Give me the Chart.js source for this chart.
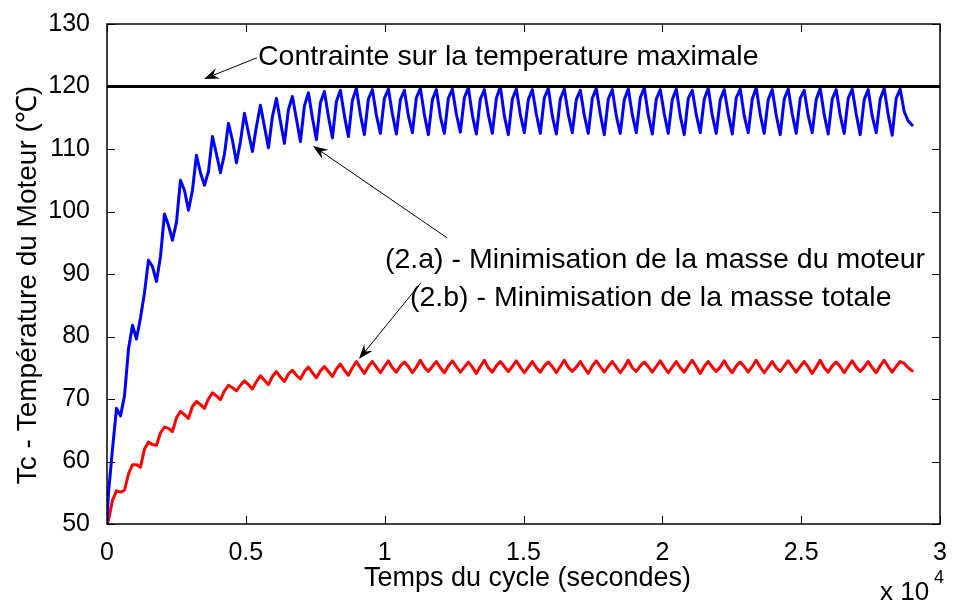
<!DOCTYPE html>
<html>
<head>
<meta charset="utf-8">
<script src="https://cdn.jsdelivr.net/npm/chart.js@4.4.1/dist/chart.umd.min.js"></script>
<style>
    html, body { margin: 0; padding: 0; background: #fff; }
    canvas { display: block; }
</style>
</head>
<body>
<canvas id="temp-chart" width="956" height="604"></canvas>
<script>
// one reading at t = 0, then readings every 144 s starting at 54 s (4 per 576 s cycle)
const FIRST_SAMPLE = 54;
const SAMPLE_STEP = 144;

// (2.a) - motor mass minimisation, degC
const blueTemp = [
    50.2, 55.0, 62.0,
    68.5, 67.3, 70.5, 78.0,
    81.8, 79.6, 83.0, 87.0,
    92.2, 91.2, 88.8, 92.8,
    99.6, 97.8, 95.4, 98.3,
    105.0, 103.4, 100.2, 103.4,
    109.0, 106.2, 104.2, 106.4,
    112.0, 109.2, 106.2, 109.2,
    114.1, 111.4, 107.8, 111.2,
    115.7, 112.6, 109.6, 113.6,
    117.0, 113.6, 110.2, 115.2,
    118.1, 114.4, 110.9, 116.3,
    118.4, 114.8, 111.2, 116.9,
    119.0, 115.0, 111.5, 117.4,
    119.2, 115.2, 111.8, 117.6,
    119.4, 115.3, 112.0, 117.8,
    119.7, 115.5, 112.3, 118.0,
    119.5, 115.4, 112.5, 118.1,
    119.6, 115.6, 112.4, 117.9,
    119.4, 115.3, 112.6, 118.2,
    119.7, 115.5, 112.3, 117.9,
    119.5, 115.2, 112.5, 118.1,
    119.6, 115.6, 112.7, 118.2,
    119.8, 115.4, 112.4, 118.0,
    119.5, 115.5, 112.5, 118.1,
    120.0, 115.3, 112.3, 118.0,
    119.6, 115.5, 112.6, 117.9,
    119.5, 115.6, 112.5, 118.2,
    119.7, 115.3, 112.4, 118.0,
    119.6, 115.5, 112.6, 117.9,
    119.4, 115.4, 112.5, 118.1,
    119.7, 115.6, 112.3, 118.0,
    119.5, 115.3, 112.5, 117.9,
    119.6, 115.5, 112.6, 118.2,
    119.8, 115.4, 112.4, 118.0,
    119.5, 115.6, 112.5, 117.9,
    119.6, 115.3, 112.3, 118.1,
    119.4, 115.5, 112.6, 118.0,
    119.7, 115.4, 112.5, 117.9,
    119.5, 115.6, 112.4, 118.2,
    119.6, 115.3, 112.6, 118.0,
    119.8, 115.5, 112.5, 117.9,
    119.5, 115.4, 112.3, 118.0,
    119.6, 115.6, 112.5, 118.1,
    119.4, 115.3, 112.6, 117.9,
    119.7, 115.5, 112.4, 118.0,
    119.5, 115.4, 112.5, 118.1,
    119.6, 115.6, 112.3, 117.9,
    119.5, 115.3, 112.6, 118.0,
    119.7, 115.5, 112.2, 118.1,
    119.6, 116.0, 114.5, 113.8
];

// (2.b) - total mass minimisation, degC
const redTemp = [
    50.0, 50.6, 53.8,
    55.3, 55.1, 55.4, 58.0,
    59.5, 59.5, 59.1, 62.0,
    63.1, 62.7, 62.6, 64.6,
    65.5, 65.3, 64.8, 67.0,
    68.0, 67.5, 66.9, 68.8,
    69.6, 69.1, 68.5, 70.0,
    71.0, 70.5, 69.9, 71.3,
    72.2, 71.8, 71.3, 72.2,
    72.9, 72.3, 71.6, 72.8,
    73.7, 73.0, 72.3, 73.6,
    74.4, 73.5, 72.8, 74.0,
    74.6, 73.8, 73.2, 74.4,
    75.1, 74.2, 73.4, 74.5,
    75.2, 74.4, 73.6, 74.8,
    75.6, 74.6, 73.8, 75.0,
    76.0, 75.0, 74.1, 75.2,
    76.0, 75.1, 74.2, 75.2,
    76.1, 75.0, 74.3, 75.3,
    75.9, 75.2, 74.2, 75.1,
    76.2, 75.1, 74.4, 75.2,
    76.0, 75.0, 74.2, 75.3,
    76.1, 75.2, 74.3, 75.1,
    75.9, 75.1, 74.1, 75.2,
    76.2, 75.0, 74.3, 75.3,
    76.0, 75.2, 74.4, 75.2,
    76.1, 75.1, 74.2, 75.1,
    76.0, 75.0, 74.3, 75.3,
    75.9, 75.2, 74.2, 75.2,
    76.2, 75.1, 74.4, 75.1,
    76.0, 75.0, 74.1, 75.3,
    76.1, 75.2, 74.3, 75.2,
    76.0, 75.1, 74.2, 75.1,
    76.2, 75.0, 74.4, 75.3,
    75.9, 75.2, 74.3, 75.2,
    76.1, 75.1, 74.2, 75.1,
    76.0, 75.0, 74.3, 75.3,
    76.2, 75.2, 74.1, 75.2,
    76.0, 75.1, 74.4, 75.1,
    76.1, 75.0, 74.2, 75.3,
    75.9, 75.2, 74.3, 75.2,
    76.2, 75.1, 74.2, 75.1,
    76.0, 75.0, 74.4, 75.3,
    76.1, 75.2, 74.3, 75.2,
    76.0, 75.1, 74.1, 75.1,
    76.2, 75.0, 74.3, 75.3,
    75.9, 75.2, 74.2, 75.2,
    76.1, 75.1, 74.4, 75.1,
    76.0, 75.0, 74.2, 75.3,
    76.2, 75.2, 74.3, 75.2,
    76.0, 75.7, 75.0, 74.5
];

const constraintX = [0, 30000];
const constraintY = [120, 120];

const xTicks = [0, 5000, 10000, 15000, 20000, 25000, 30000];
const yTicks = [50, 60, 70, 80, 90, 100, 110, 120, 130];

const FONT = '"Liberation Sans", Arial, Helvetica, sans-serif';

// annotations, in data coordinates
const notes = [
    { text: 'Contrainte sur la temperature maximale', x: 5437, y: 123.4 },
    { text: '(2.a) - Minimisation de la masse du moteur', x: 10011, y: 91.0 },
    { text: '(2.b) - Minimisation de la masse totale', x: 10911, y: 84.9 }
];
const arrows = [
    { from: [5401, 124.6], to: [3493, 121.2] },
    { from: [12243, 95.8], to: [7418, 110.5] },
    { from: [11307, 88.6], to: [9074, 76.4] }
];

function toPoints(values) {
    return values.map((v, i) => ({
        x: i === 0 ? 0 : FIRST_SAMPLE + SAMPLE_STEP * (i - 1),
        y: v
    }));
}

function drawArrow(ctx, x1, y1, x2, y2) {
    const ang = Math.atan2(y2 - y1, x2 - x1);
    const len = 15, half = 5.5;
    ctx.beginPath();
    ctx.moveTo(x1, y1);
    ctx.lineTo(x2 - Math.cos(ang) * len * 0.6, y2 - Math.sin(ang) * len * 0.6);
    ctx.stroke();
    const bx = x2 - Math.cos(ang) * len, by = y2 - Math.sin(ang) * len;
    const nx = -Math.sin(ang), ny = Math.cos(ang);
    ctx.beginPath();
    ctx.moveTo(x2, y2);
    ctx.lineTo(bx + nx * half, by + ny * half);
    ctx.lineTo(x2 - Math.cos(ang) * len * 0.65, y2 - Math.sin(ang) * len * 0.65);
    ctx.lineTo(bx - nx * half, by - ny * half);
    ctx.closePath();
    ctx.fill();
}

const matlabFrame = {
    id: 'matlabFrame',
    afterDraw(chart) {
        const { ctx, chartArea: a, scales: { x, y } } = chart;
        ctx.save();
        ctx.strokeStyle = '#000';
        ctx.fillStyle = '#000';

        ctx.lineWidth = 1.5;
        ctx.strokeRect(a.left, a.top, a.right - a.left, a.bottom - a.top);

        ctx.lineWidth = 1;
        ctx.beginPath();
        xTicks.forEach(v => {
            const px = Math.round(x.getPixelForValue(v)) + 0.5;
            ctx.moveTo(px, a.bottom); ctx.lineTo(px, a.bottom - 8);
            ctx.moveTo(px, a.top); ctx.lineTo(px, a.top + 8);
        });
        yTicks.forEach(v => {
            const py = Math.round(y.getPixelForValue(v)) + 0.5;
            ctx.moveTo(a.left, py); ctx.lineTo(a.left + 8, py);
            ctx.moveTo(a.right, py); ctx.lineTo(a.right - 8, py);
        });
        ctx.stroke();

        // axis titles
        ctx.font = '27px ' + FONT;
        ctx.textAlign = 'center';
        ctx.textBaseline = 'alphabetic';
        ctx.fillText('Temps du cycle (secondes)', (a.left + a.right) / 2 + 4, 586);
        ctx.save();
        ctx.translate(36, 285);
        ctx.rotate(-Math.PI / 2);
        ctx.font = '28px ' + FONT;
        ctx.fillText('Tc - Température du Moteur (\u2103)', 0, 0);
        ctx.restore();

        ctx.font = '26px ' + FONT;
        ctx.textAlign = 'left';
        ctx.fillText('x 10', 880, 600);
        ctx.font = '18px ' + FONT;
        ctx.fillText('4', 934, 583);

        // annotations
        ctx.font = '28.5px ' + FONT;
        notes.forEach(n => {
            ctx.fillText(n.text, x.getPixelForValue(n.x), y.getPixelForValue(n.y));
        });
        ctx.lineWidth = 1;
        arrows.forEach(ar => {
            drawArrow(ctx,
                x.getPixelForValue(ar.from[0]), y.getPixelForValue(ar.from[1]),
                x.getPixelForValue(ar.to[0]), y.getPixelForValue(ar.to[1]));
        });
        ctx.restore();
    }
};

function renderTemperatureChart() {
    const ctx = document.getElementById('temp-chart');

    new Chart(ctx, {
        type: 'line',
        data: {
            datasets: [
                {
                    label: 'Contrainte',
                    data: constraintX.map((v, i) => ({ x: v, y: constraintY[i] })),
                    borderColor: '#000',
                    borderWidth: 3
                },
                {
                    label: '(2.a)',
                    data: toPoints(blueTemp),
                    borderColor: '#0000ff',
                    borderWidth: 3
                },
                {
                    label: '(2.b)',
                    data: toPoints(redTemp),
                    borderColor: '#ff0000',
                    borderWidth: 3
                }
            ]
        },
        options: {
            responsive: false,
            animation: false,
            devicePixelRatio: 1,
            elements: {
                point: { radius: 0 },
                line: { tension: 0, borderJoinStyle: 'round', borderCapStyle: 'round' }
            },
            layout: {
                padding: { top: 24, right: 16, left: 0, bottom: 0 }
            },
            plugins: {
                legend: { display: false },
                tooltip: { enabled: false }
            },
            scales: {
                x: {
                    type: 'linear',
                    min: 0,
                    max: 30000,
                    afterBuildTicks: scale => {
                        scale.ticks = xTicks.map(v => ({ value: v }));
                    },
                    afterFit: scale => { scale.height = 80; },
                    grid: { display: false },
                    border: { display: false },
                    ticks: {
                        color: '#000',
                        padding: 6,
                        maxRotation: 0,
                        font: { family: FONT, size: 25 },
                        callback: v => String(v / 10000)
                    }
                },
                y: {
                    type: 'linear',
                    min: 50,
                    max: 130,
                    afterBuildTicks: scale => {
                        scale.ticks = yTicks.map(v => ({ value: v }));
                    },
                    afterFit: scale => { scale.width = 107; },
                    grid: { display: false },
                    border: { display: false },
                    ticks: {
                        color: '#000',
                        padding: 9,
                        font: { family: FONT, size: 25 },
                        callback: v => String(v)
                    }
                }
            }
        },
        plugins: [matlabFrame]
    });
}

renderTemperatureChart();
</script>
</body>
</html>
